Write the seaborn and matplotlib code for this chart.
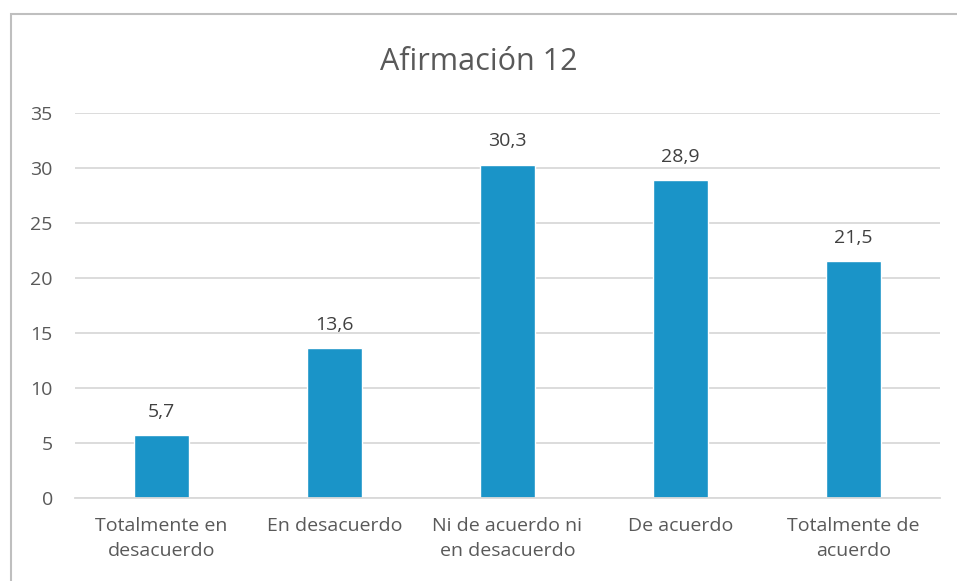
import matplotlib
matplotlib.use("Agg")
import matplotlib.pyplot as plt
import seaborn as sns
import pandas as pd
from matplotlib.patches import Rectangle

categories = ["Totalmente en\ndesacuerdo", "En desacuerdo", "Ni de acuerdo ni\nen desacuerdo", "De acuerdo", "Totalmente de\nacuerdo"]
values = [5.7, 13.6, 30.3, 28.9, 21.5]
yticks = [0, 5, 10, 15, 20, 25, 30, 35]
title = "Afirmación 12"

sns.set_theme(style="white")
plt.rcParams['font.family'] = ['Open Sans', 'DejaVu Sans']

df = pd.DataFrame({"cat": categories, "val": values})
fig = plt.figure(figsize=(9.57, 5.81), dpi=100)
ax = fig.add_axes([0.0784, 0.1429, 0.9036, 0.6626])
sns.barplot(data=df, x="cat", y="val", color="#1A94C8", saturation=1, width=0.32, ax=ax)
ax.set_ylim(0, 35)
ax.set_xlim(-0.5, 4.5)
ax.set_yticks(yticks)
ax.set_yticklabels([str(t) for t in yticks])
ax.yaxis.grid(True, color="#D9D9D9", linewidth=1.3)
ax.set_axisbelow(True)
for s in ["top", "right", "left"]:
    ax.spines[s].set_visible(False)
ax.spines["bottom"].set_color("#D9D9D9")
ax.spines["bottom"].set_linewidth(1.3)
ax.tick_params(axis="both", length=0, labelsize=14, colors="#595959")
ax.tick_params(axis="x", pad=14)
ax.tick_params(axis="y", pad=16)
for lbl in ax.get_xticklabels():
    lbl.set_linespacing(1.45)
ax.set_xlabel("")
ax.set_ylabel("")
for i, v in enumerate(values):
    ax.text(i, v + 1.3, f"{v:.1f}".replace(".", ","), ha="center", va="bottom", fontsize=14, color="#404040")
fig.text(0.5, 0.894, title, ha="center", va="center", fontsize=22, color="#595959")
fig.patches.append(Rectangle((11/957, -0.1), 1.2, 1.1 - 14/581, transform=fig.transFigure, fill=False, edgecolor="#BFBFBF", linewidth=1.5))
fig.savefig("out.png", dpi=100)
